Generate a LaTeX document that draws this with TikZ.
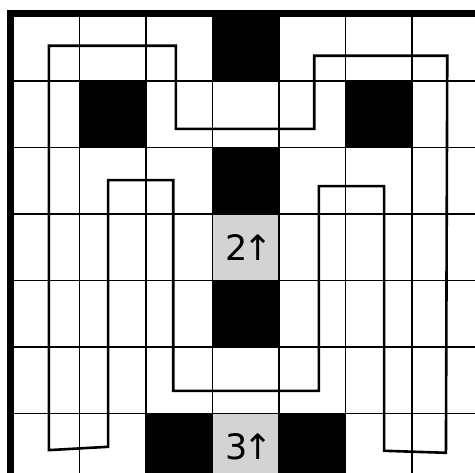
\documentclass[tikz,border=0pt]{standalone}
\usepackage{fontspec}
\setmainfont{DejaVu Sans}
\definecolor{cellgray}{RGB}{211,211,211}

\begin{document}
\begin{tikzpicture}[x=66.5pt, y=-66.5pt,
  wall/.style={fill=black},
  clue/.style={font=\fontsize{35}{40}\selectfont, inner sep=0pt},
  loop/.style={line width=2.6pt, line join=miter}]
  % cropped window, 475 x 472
  \useasboundingbox (-0.195,-0.218) rectangle (6.947,6.880);
  \clip (-0.195,-0.218) rectangle (6.947,6.880);

  % black cells and the two clue cells
  \foreach \c/\r in {3/0, 1/1, 5/1, 3/2, 3/4, 2/6, 4/6}
    \fill[wall] (\c,\r) rectangle ++(1,1);
  \fill[cellgray] (3,3) rectangle (4,4);
  \fill[cellgray] (3,6) rectangle (4,7);

  % grid
  \foreach \i in {1,...,7} {
    \draw[line width=1.4pt] (\i,0) -- (\i,7.2);
    \draw[line width=1.4pt] (0,\i) -- (7.2,\i);
  }
  % frame (top and left only in this crop)
  \draw[line width=6.7pt, line join=miter] (-0.035,7.2) -- (-0.035,-0.018) -- (7.2,-0.018);

  % the loop
  \draw[loop] (0.54,0.47) -- (2.45,0.47) -- (2.45,1.72) -- (4.53,1.72)
    -- (4.53,0.62) -- (6.53,0.62) -- (6.51,6.59) -- (5.58,6.56)
    -- (5.58,2.58) -- (4.60,2.58) -- (4.60,5.66) -- (2.41,5.66)
    -- (2.41,2.49) -- (1.43,2.49) -- (1.43,6.50) -- (0.54,6.55) -- cycle;

  % clues
  \node[clue] (clueA) at (3.55,3.5) {2\kern-4pt↑};
  \node[clue] (clueB) at (3.55,6.5) {3\kern-4pt↑};
\end{tikzpicture}
\end{document}
